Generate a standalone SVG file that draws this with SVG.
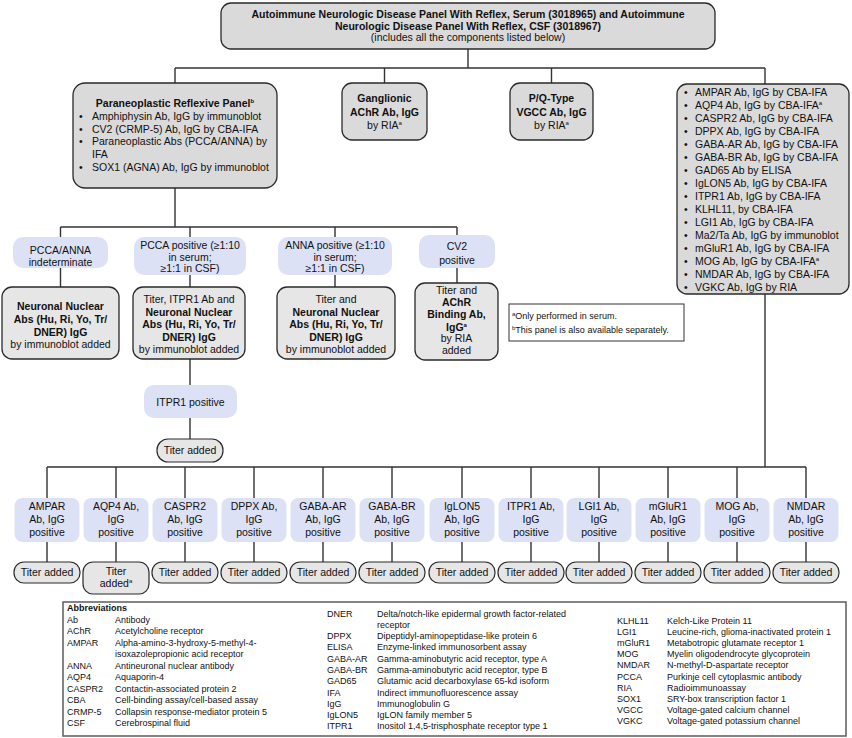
<svg xmlns="http://www.w3.org/2000/svg" width="852" height="738" viewBox="0 0 852 738">
<style>
text{font-family:"Liberation Sans",Arial,sans-serif;font-size:10.5px;fill:#111}
.b{font-weight:bold}
.c{text-anchor:middle}
.sup{font-size:6px}
.ab{font-size:9px}
.gray{fill:#dadada;stroke:#2a2a2a;stroke-width:1.3}
.lgray{fill:#e6e6e6;stroke:#2a2a2a;stroke-width:1.3}
.blue{fill:#dde1f5;stroke:none}
.pill{fill:#e6e6e6;stroke:#2a2a2a;stroke-width:1.2}
#connectors path{fill:none;stroke:#333;stroke-width:1.4}
</style>
<rect width="852" height="738" fill="#fff"/>
<g id="connectors">
<path d="M468 49V68M175 68H765M175 68V83M384.5 68V83M551.5 68V83M765 68V84"/>
<path d="M175 188V227M60.5 227H457M60.5 227V237M190 227V237M335 227V237M457 227V235"/>
<path d="M60.5 268V287M190 275V287M335 275V287M457 268V283"/>
<path d="M190 359V385M190 418V439"/>
<path d="M765 294V467M47 467H806"/>
<path d="M47 467V498M116 467V498M185 467V498M254 467V498M323 467V498M392 467V498M462 467V498M531 467V498M599 467V498M668 467V498M737 467V498M806 467V498"/>
<path d="M47 542V562M116 542V562M185 542V562M254 542V562M323 542V562M392 542V562M462 542V562M531 542V562M599 542V562M668 542V562M737 542V562M806 542V562"/>
</g>
<g id="top">
<rect class="gray" x="221" y="3" width="494" height="46" rx="10"/>
<text class="c b" x="468" y="17.5">Autoimmune Neurologic Disease Panel With Reflex, Serum (3018965) and Autoimmune</text>
<text class="c b" x="468" y="29.5">Neurologic Disease Panel With Reflex, CSF (3018967)</text>
<text class="c" x="468" y="41">(includes all the components listed below)</text>
</g>
<g id="paraneoplastic">
<rect class="gray" x="73" y="83" width="204" height="105" rx="12"/>
<text class="c b" x="175" y="107">Paraneoplastic Reflexive Panel<tspan class="sup" dy="-4">b</tspan></text>
<text x="79" y="120">•</text><text x="92" y="120">Amphiphysin Ab, IgG by immunoblot</text>
<text x="79" y="133">•</text><text x="92" y="133">CV2 (CRMP-5) Ab, IgG by CBA-IFA</text>
<text x="79" y="145">•</text><text x="92" y="145">Paraneoplastic Abs (PCCA/ANNA) by</text>
<text x="92" y="158">IFA</text>
<text x="79" y="171">•</text><text x="92" y="171">SOX1 (AGNA) Ab, IgG by immunoblot</text>
</g>
<g id="ganglionic">
<rect class="gray" x="342" y="83" width="85" height="57" rx="10"/>
<text class="c b" x="384.5" y="102">Ganglionic</text>
<text class="c b" x="384.5" y="116">AChR Ab, IgG</text>
<text class="c" x="384.5" y="129">by RIA<tspan class="sup" dy="-4">a</tspan></text>
</g>
<g id="pqtype">
<rect class="gray" x="510" y="83" width="83" height="57" rx="10"/>
<text class="c b" x="551.5" y="102">P/Q-Type</text>
<text class="c b" x="551.5" y="116">VGCC Ab, IgG</text>
<text class="c" x="551.5" y="129">by RIA<tspan class="sup" dy="-4">a</tspan></text>
</g>
<g id="list">
<rect class="gray" x="677" y="84" width="172" height="210" rx="10"/>
<g>
<text x="684" y="96">•</text><text x="695" y="96">AMPAR Ab, IgG by CBA-IFA</text>
<text x="684" y="109">•</text><text x="695" y="109">AQP4 Ab, IgG by CBA-IFA<tspan class="sup" dy="-4">a</tspan></text>
<text x="684" y="122">•</text><text x="695" y="122">CASPR2 Ab, IgG by CBA-IFA</text>
<text x="684" y="135">•</text><text x="695" y="135">DPPX Ab, IgG by CBA-IFA</text>
<text x="684" y="148">•</text><text x="695" y="148">GABA-AR Ab, IgG by CBA-IFA</text>
<text x="684" y="161">•</text><text x="695" y="161">GABA-BR Ab, IgG by CBA-IFA</text>
<text x="684" y="174">•</text><text x="695" y="174">GAD65 Ab by ELISA</text>
<text x="684" y="187">•</text><text x="695" y="187">IgLON5 Ab, IgG by CBA-IFA</text>
<text x="684" y="200">•</text><text x="695" y="200">ITPR1 Ab, IgG by CBA-IFA</text>
<text x="684" y="213">•</text><text x="695" y="213">KLHL11, by CBA-IFA</text>
<text x="684" y="226">•</text><text x="695" y="226">LGI1 Ab, IgG by CBA-IFA</text>
<text x="684" y="239">•</text><text x="695" y="239">Ma2/Ta Ab, IgG by immunoblot</text>
<text x="684" y="252">•</text><text x="695" y="252">mGluR1 Ab, IgG by CBA-IFA</text>
<text x="684" y="265">•</text><text x="695" y="265">MOG Ab, IgG by CBA-IFA<tspan class="sup" dy="-4">a</tspan></text>
<text x="684" y="278">•</text><text x="695" y="278">NMDAR Ab, IgG by CBA-IFA</text>
<text x="684" y="291">•</text><text x="695" y="291">VGKC Ab, IgG by RIA</text>
</g>
</g>
<g id="indeterminate">
<rect class="blue" x="13" y="237" width="95" height="31" rx="10"/>
<text class="c" x="60.5" y="254">PCCA/ANNA</text>
<text class="c" x="60.5" y="266">indeterminate</text>
</g>
<g id="pcca-pos">
<rect class="blue" x="134" y="237" width="112" height="38" rx="10"/>
<text class="c" x="190" y="249">PCCA positive (≥1:10</text>
<text class="c" x="190" y="261">in serum;</text>
<text class="c" x="190" y="272">≥1:1 in CSF)</text>
</g>
<g id="anna-pos">
<rect class="blue" x="278" y="237" width="114" height="38" rx="10"/>
<text class="c" x="335" y="249">ANNA positive (≥1:10</text>
<text class="c" x="335" y="261">in serum;</text>
<text class="c" x="335" y="272">≥1:1 in CSF)</text>
</g>
<g id="cv2-pos">
<rect class="blue" x="419" y="235" width="76" height="33" rx="10"/>
<text class="c" x="457" y="250">CV2</text>
<text class="c" x="457" y="264">positive</text>
</g>
<g id="nn1">
<rect class="lgray" x="2" y="287" width="117" height="72" rx="10"/>
<text class="c b" x="60.5" y="310">Neuronal Nuclear</text>
<text class="c b" x="60.5" y="323">Abs (Hu, Ri, Yo, Tr/</text>
<text class="c b" x="60.5" y="336">DNER) IgG</text>
<text class="c" x="60.5" y="348">by immunoblot added</text>
</g>
<g id="nn2">
<rect class="lgray" x="133" y="287" width="112" height="72" rx="10"/>
<text class="c" x="189" y="303">Titer, ITPR1 Ab and</text>
<text class="c b" x="189" y="316">Neuronal Nuclear</text>
<text class="c b" x="189" y="328">Abs (Hu, Ri, Yo, Tr/</text>
<text class="c b" x="189" y="341">DNER) IgG</text>
<text class="c" x="189" y="353">by immunoblot added</text>
</g>
<g id="nn3">
<rect class="lgray" x="277" y="287" width="118" height="72" rx="10"/>
<text class="c" x="336" y="303">Titer and</text>
<text class="c b" x="336" y="316">Neuronal Nuclear</text>
<text class="c b" x="336" y="328">Abs (Hu, Ri, Yo, Tr/</text>
<text class="c b" x="336" y="341">DNER) IgG</text>
<text class="c" x="336" y="353">by immunoblot added</text>
</g>
<g id="achr">
<rect class="lgray" x="415" y="283" width="83" height="77" rx="10"/>
<text class="c" x="456.5" y="294">Titer and</text>
<text class="c b" x="456.5" y="306">AChR</text>
<text class="c b" x="456.5" y="318">Binding Ab,</text>
<text class="c b" x="456.5" y="331">IgG<tspan class="sup" dy="-4">a</tspan></text>
<text class="c" x="456.5" y="342">by RIA</text>
<text class="c" x="456.5" y="354">added</text>
</g>
<g id="footnotes">
<rect x="509" y="304" width="175" height="37" fill="#fff" stroke="#333" stroke-width="1"/>
<text class="ab" x="512" y="319"><tspan class="sup" dy="-3">a</tspan><tspan dy="3">Only performed in serum.</tspan></text>
<text class="ab" x="512" y="333"><tspan class="sup" dy="-3">b</tspan><tspan dy="3">This panel is also available separately.</tspan></text>
</g>
<g id="itpr1-pos">
<rect class="blue" x="144" y="385" width="93" height="33" rx="10"/>
<text class="c" x="190.5" y="405.5">ITPR1 positive</text>
</g>
<g id="itpr1-titer">
<rect class="pill" x="157" y="439" width="66" height="23" rx="11"/>
<text class="c" x="190" y="454">Titer added</text>
</g>
<g id="bottom-row">
<g id="ampar"><rect class="blue" x="14.5" y="498" width="65" height="44" rx="8"/><text class="c" x="47" y="510">AMPAR</text><text class="c" x="47" y="523">Ab, IgG</text><text class="c" x="47" y="536">positive</text></g>
<g id="aqp4"><rect class="blue" x="83.5" y="498" width="65" height="44" rx="8"/><text class="c" x="116" y="510">AQP4 Ab,</text><text class="c" x="116" y="523">IgG</text><text class="c" x="116" y="536">positive</text></g>
<g id="caspr2"><rect class="blue" x="152.5" y="498" width="65" height="44" rx="8"/><text class="c" x="185" y="510">CASPR2</text><text class="c" x="185" y="523">Ab, IgG</text><text class="c" x="185" y="536">positive</text></g>
<g id="dppx"><rect class="blue" x="221.5" y="498" width="65" height="44" rx="8"/><text class="c" x="254" y="510">DPPX Ab,</text><text class="c" x="254" y="523">IgG</text><text class="c" x="254" y="536">positive</text></g>
<g id="gabaar"><rect class="blue" x="290.5" y="498" width="65" height="44" rx="8"/><text class="c" x="323" y="510">GABA-AR</text><text class="c" x="323" y="523">Ab, IgG</text><text class="c" x="323" y="536">positive</text></g>
<g id="gababr"><rect class="blue" x="359.5" y="498" width="65" height="44" rx="8"/><text class="c" x="392" y="510">GABA-BR</text><text class="c" x="392" y="523">Ab, IgG</text><text class="c" x="392" y="536">positive</text></g>
<g id="iglon5"><rect class="blue" x="429.5" y="498" width="65" height="44" rx="8"/><text class="c" x="462" y="510">IgLON5</text><text class="c" x="462" y="523">Ab, IgG</text><text class="c" x="462" y="536">positive</text></g>
<g id="itpr1"><rect class="blue" x="498.5" y="498" width="65" height="44" rx="8"/><text class="c" x="531" y="510">ITPR1 Ab,</text><text class="c" x="531" y="523">IgG</text><text class="c" x="531" y="536">positive</text></g>
<g id="lgi1"><rect class="blue" x="566.5" y="498" width="65" height="44" rx="8"/><text class="c" x="599" y="510">LGI1 Ab,</text><text class="c" x="599" y="523">IgG</text><text class="c" x="599" y="536">positive</text></g>
<g id="mglur1"><rect class="blue" x="635.5" y="498" width="65" height="44" rx="8"/><text class="c" x="668" y="510">mGluR1</text><text class="c" x="668" y="523">Ab, IgG</text><text class="c" x="668" y="536">positive</text></g>
<g id="mog"><rect class="blue" x="704.5" y="498" width="65" height="44" rx="8"/><text class="c" x="737" y="510">MOG Ab,</text><text class="c" x="737" y="523">IgG</text><text class="c" x="737" y="536">positive</text></g>
<g id="nmdar"><rect class="blue" x="773.5" y="498" width="65" height="44" rx="8"/><text class="c" x="806" y="510">NMDAR</text><text class="c" x="806" y="523">Ab, IgG</text><text class="c" x="806" y="536">positive</text></g>
</g>
<g id="titer-row">
<g><rect class="pill" x="14" y="562" width="66" height="21" rx="10"/><text class="c" x="47" y="576">Titer added</text></g>
<g><rect class="pill" x="83" y="562" width="66" height="32" rx="10"/><text class="c" x="116" y="575">Titer</text><text class="c" x="116" y="587">added<tspan class="sup" dy="-4">a</tspan></text></g>
<g><rect class="pill" x="152" y="562" width="66" height="21" rx="10"/><text class="c" x="185" y="576">Titer added</text></g>
<g><rect class="pill" x="221" y="562" width="66" height="21" rx="10"/><text class="c" x="254" y="576">Titer added</text></g>
<g><rect class="pill" x="290" y="562" width="66" height="21" rx="10"/><text class="c" x="323" y="576">Titer added</text></g>
<g><rect class="pill" x="359" y="562" width="66" height="21" rx="10"/><text class="c" x="392" y="576">Titer added</text></g>
<g><rect class="pill" x="429" y="562" width="66" height="21" rx="10"/><text class="c" x="462" y="576">Titer added</text></g>
<g><rect class="pill" x="498" y="562" width="66" height="21" rx="10"/><text class="c" x="531" y="576">Titer added</text></g>
<g><rect class="pill" x="566" y="562" width="66" height="21" rx="10"/><text class="c" x="599" y="576">Titer added</text></g>
<g><rect class="pill" x="635" y="562" width="66" height="21" rx="10"/><text class="c" x="668" y="576">Titer added</text></g>
<g><rect class="pill" x="704" y="562" width="66" height="21" rx="10"/><text class="c" x="737" y="576">Titer added</text></g>
<g><rect class="pill" x="773" y="562" width="66" height="21" rx="10"/><text class="c" x="806" y="576">Titer added</text></g>
</g>
<g id="abbreviations">
<rect x="63" y="602" width="783" height="134" fill="#fff" stroke="#666" stroke-width="1.6"/>
<g class="ab">
<text class="ab b" x="67" y="611">Abbreviations</text>
<text class="ab" x="67" y="622.5">Ab</text><text class="ab" x="115" y="622.5">Antibody</text>
<text class="ab" x="67" y="634">AChR</text><text class="ab" x="115" y="634">Acetylcholine receptor</text>
<text class="ab" x="67" y="645.5">AMPAR</text><text class="ab" x="115" y="645.5">Alpha-amino-3-hydroxy-5-methyl-4-</text>
<text class="ab" x="115" y="657">isoxazolepropionic acid receptor</text>
<text class="ab" x="67" y="668.5">ANNA</text><text class="ab" x="115" y="668.5">Antineuronal nuclear antibody</text>
<text class="ab" x="67" y="680">AQP4</text><text class="ab" x="115" y="680">Aquaporin-4</text>
<text class="ab" x="67" y="691.5">CASPR2</text><text class="ab" x="115" y="691.5">Contactin-associated protein 2</text>
<text class="ab" x="67" y="703">CBA</text><text class="ab" x="115" y="703">Cell-binding assay/cell-based assay</text>
<text class="ab" x="67" y="714.5">CRMP-5</text><text class="ab" x="115" y="714.5">Collapsin response-mediator protein 5</text>
<text class="ab" x="67" y="726">CSF</text><text class="ab" x="115" y="726">Cerebrospinal fluid</text>

<text class="ab" x="327" y="617">DNER</text><text class="ab" x="377" y="617">Delta/notch-like epidermal growth factor-related</text>
<text class="ab" x="377" y="627.5">receptor</text>
<text class="ab" x="327" y="639">DPPX</text><text class="ab" x="377" y="639">Dipeptidyl-aminopeptidase-like protein 6</text>
<text class="ab" x="327" y="650.3">ELISA</text><text class="ab" x="377" y="650.3">Enzyme-linked immunosorbent assay</text>
<text class="ab" x="327" y="661.6">GABA-AR</text><text class="ab" x="377" y="661.6">Gamma-aminobutyric acid receptor, type A</text>
<text class="ab" x="327" y="672.9">GABA-BR</text><text class="ab" x="377" y="672.9">Gamma-aminobutyric acid receptor, type B</text>
<text class="ab" x="327" y="684.2">GAD65</text><text class="ab" x="377" y="684.2">Glutamic acid decarboxylase 65-kd isoform</text>
<text class="ab" x="327" y="695.5">IFA</text><text class="ab" x="377" y="695.5">Indirect immunofluorescence assay</text>
<text class="ab" x="327" y="706.8">IgG</text><text class="ab" x="377" y="706.8">Immunoglobulin G</text>
<text class="ab" x="327" y="718.1">IgLON5</text><text class="ab" x="377" y="718.1">IgLON family member 5</text>
<text class="ab" x="327" y="729.4">ITPR1</text><text class="ab" x="377" y="729.4">Inositol 1,4,5-trisphosphate receptor type 1</text>

<text class="ab" x="617" y="624">KLHL11</text><text class="ab" x="667" y="624">Kelch-Like Protein 11</text>
<text class="ab" x="617" y="635.1">LGI1</text><text class="ab" x="667" y="635.1">Leucine-rich, glioma-inactivated protein 1</text>
<text class="ab" x="617" y="646.2">mGluR1</text><text class="ab" x="667" y="646.2">Metabotropic glutamate receptor 1</text>
<text class="ab" x="617" y="657.3">MOG</text><text class="ab" x="667" y="657.3">Myelin oligodendrocyte glycoprotein</text>
<text class="ab" x="617" y="668.4">NMDAR</text><text class="ab" x="667" y="668.4">N-methyl-D-aspartate receptor</text>
<text class="ab" x="617" y="679.5">PCCA</text><text class="ab" x="667" y="679.5">Purkinje cell cytoplasmic antibody</text>
<text class="ab" x="617" y="690.6">RIA</text><text class="ab" x="667" y="690.6">Radioimmunoassay</text>
<text class="ab" x="617" y="701.7">SOX1</text><text class="ab" x="667" y="701.7">SRY-box transcription factor 1</text>
<text class="ab" x="617" y="712.8">VGCC</text><text class="ab" x="667" y="712.8">Voltage-gated calcium channel</text>
<text class="ab" x="617" y="723.9">VGKC</text><text class="ab" x="667" y="723.9">Voltage-gated potassium channel</text>
</g>
</g>
</svg>
